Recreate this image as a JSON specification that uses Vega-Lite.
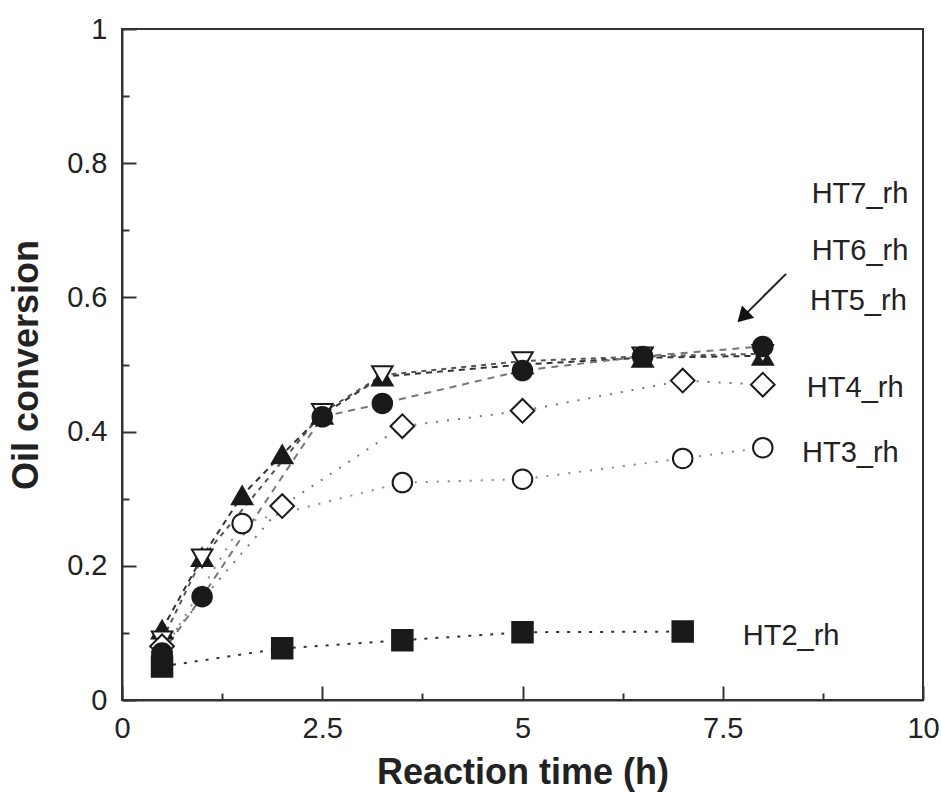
{
  "$schema": "https://vega.github.io/schema/vega-lite/v6.json",
  "width": 801,
  "height": 671,
  "autosize": "none",
  "padding": {"left": 122, "top": 29, "right": 19, "bottom": 92},
  "background": "white",
  "config": {
    "view": {"stroke": "#333", "strokeWidth": 2},
    "font": "Liberation Sans",
    "axis": {"grid": false, "domainColor": "#333", "domainWidth": 2, "tickColor": "#333", "tickWidth": 2, "labelFont": "Liberation Sans", "labelFontSize": 29, "labelColor": "#222", "titleFont": "Liberation Sans", "titleFontWeight": "bold", "titleFontSize": 36, "titleColor": "#222"}
  },
  "datasets": {
    "pts": [
      {"s": "HT6", "x": 0.5, "y": 0.105}, {"s": "HT6", "x": 1, "y": 0.213}, {"s": "HT6", "x": 1.5, "y": 0.305}, {"s": "HT6", "x": 2, "y": 0.366}, {"s": "HT6", "x": 2.5, "y": 0.425}, {"s": "HT6", "x": 3.25, "y": 0.482}, {"s": "HT6", "x": 5, "y": 0.5}, {"s": "HT6", "x": 6.5, "y": 0.51}, {"s": "HT6", "x": 8, "y": 0.513},
      {"s": "HT7", "x": 0.5, "y": 0.089}, {"s": "HT7", "x": 1, "y": 0.211}, {"s": "HT7", "x": 2.5, "y": 0.428}, {"s": "HT7", "x": 3.25, "y": 0.484}, {"s": "HT7", "x": 5, "y": 0.505}, {"s": "HT7", "x": 6.5, "y": 0.512}, {"s": "HT7", "x": 8, "y": 0.516},
      {"s": "HT3", "x": 0.5, "y": 0.07}, {"s": "HT3", "x": 1.5, "y": 0.263}, {"s": "HT3", "x": 3.5, "y": 0.324}, {"s": "HT3", "x": 5, "y": 0.329}, {"s": "HT3", "x": 7, "y": 0.36}, {"s": "HT3", "x": 8, "y": 0.376},
      {"s": "HT4", "x": 0.5, "y": 0.08}, {"s": "HT4", "x": 2, "y": 0.289}, {"s": "HT4", "x": 3.5, "y": 0.408}, {"s": "HT4", "x": 5, "y": 0.431}, {"s": "HT4", "x": 7, "y": 0.476}, {"s": "HT4", "x": 8, "y": 0.47},
      {"s": "HT5", "x": 0.5, "y": 0.07}, {"s": "HT5", "x": 1, "y": 0.154}, {"s": "HT5", "x": 2.5, "y": 0.422}, {"s": "HT5", "x": 3.25, "y": 0.442}, {"s": "HT5", "x": 5, "y": 0.491}, {"s": "HT5", "x": 6.5, "y": 0.512}, {"s": "HT5", "x": 8, "y": 0.527},
      {"s": "HT2", "x": 0.5, "y": 0.05}, {"s": "HT2", "x": 2, "y": 0.077}, {"s": "HT2", "x": 3.5, "y": 0.089}, {"s": "HT2", "x": 5, "y": 0.101}, {"s": "HT2", "x": 7, "y": 0.102}
    ],
    "labels": [
      {"t": "HT7_rh", "x": 8.61, "y": 0.741},
      {"t": "HT6_rh", "x": 8.61, "y": 0.656},
      {"t": "HT5_rh", "x": 8.59, "y": 0.581},
      {"t": "HT4_rh", "x": 8.55, "y": 0.452},
      {"t": "HT3_rh", "x": 8.49, "y": 0.355},
      {"t": "HT2_rh", "x": 7.75, "y": 0.082}
    ],
    "arrow": [
      {"x": 8.29, "y": 0.635, "x2": 7.75, "y2": 0.571}
    ]
  },
  "encoding": {
    "x": {"field": "x", "type": "quantitative", "scale": {"domain": [0, 10], "nice": false, "zero": false},
      "axis": {"title": "Reaction time (h)", "values": [0, 1.25, 2.5, 3.75, 5, 6.25, 7.5, 8.75, 10],
        "labelExpr": "datum.value % 2.5 == 0 ? '' + datum.value : ''",
        "tickSize": {"condition": {"test": "datum.value % 2.5 == 0", "value": -14}, "value": -7},
        "labelPadding": 28, "titlePadding": 12, "labelFlush": false}},
    "y": {"field": "y", "type": "quantitative", "scale": {"domain": [0, 1], "nice": false},
      "axis": {"title": "Oil conversion", "values": [0, 0.1, 0.2, 0.3, 0.4, 0.5, 0.6, 0.7, 0.8, 0.9, 1],
        "labelExpr": "round(datum.value*10) % 2 == 0 ? '' + round(datum.value*10)/10 : ''",
        "tickSize": {"condition": {"test": "round(datum.value*10) % 2 == 0", "value": -14}, "value": -7},
        "labelPadding": 29, "titlePadding": 21, "labelFlush": false}}
  },
  "layer": [
    {
      "data": {"name": "pts"},
      "mark": {"type": "line", "strokeWidth": 2},
      "encoding": {
        "detail": {"field": "s"},
        "color": {"field": "s", "type": "nominal", "legend": null,
          "scale": {"domain": ["HT2", "HT3", "HT4", "HT5", "HT6", "HT7"], "range": ["#333", "#888", "#777", "#777", "#333", "#555"]}},
        "strokeDash": {"field": "s", "type": "nominal", "legend": null,
          "scale": {"domain": ["HT2", "HT3", "HT4", "HT5", "HT6", "HT7"], "range": [[3, 8], [2, 9], [2, 9], [7, 6], [6, 5], [5, 5]]}}
      }
    },
    {
      "data": {"name": "pts"},
      "mark": {"type": "point", "filled": false, "strokeWidth": 2, "opacity": 1, "stroke": "#1a1a1a"},
      "encoding": {
        "shape": {"field": "s", "type": "nominal", "legend": null,
          "scale": {"domain": ["HT2", "HT3", "HT4", "HT5", "HT6", "HT7"], "range": ["square", "circle", "diamond", "circle", "triangle-up", "triangle-down"]}},
        "fill": {"field": "s", "type": "nominal", "legend": null,
          "scale": {"domain": ["HT2", "HT3", "HT4", "HT5", "HT6", "HT7"], "range": ["#1a1a1a", "white", "white", "#1a1a1a", "#1a1a1a", "white"]}},
        "size": {"field": "s", "type": "nominal", "legend": null,
          "scale": {"type": "ordinal", "domain": ["HT2", "HT3", "HT4", "HT5", "HT6", "HT7"], "range": [420, 380, 560, 380, 420, 420]}},
        "fillOpacity": {"value": 1}
      }
    },
    {
      "data": {"name": "labels"},
      "mark": {"type": "text", "align": "left", "baseline": "alphabetic", "fontSize": 29, "font": "Liberation Sans", "color": "#222"},
      "encoding": {"text": {"field": "t"}}
    },
    {
      "data": {"name": "arrow"},
      "mark": {"type": "rule", "strokeWidth": 2, "color": "#222"},
      "encoding": {"x2": {"field": "x2"}, "y2": {"field": "y2"}}
    },
    {
      "data": {"name": "arrow"},
      "mark": {"type": "point", "shape": "triangle-up", "filled": true, "color": "#111", "size": 300, "angle": 225, "opacity": 1},
      "encoding": {"x": {"field": "x2", "type": "quantitative"}, "y": {"field": "y2", "type": "quantitative"}}
    }
  ]
}
